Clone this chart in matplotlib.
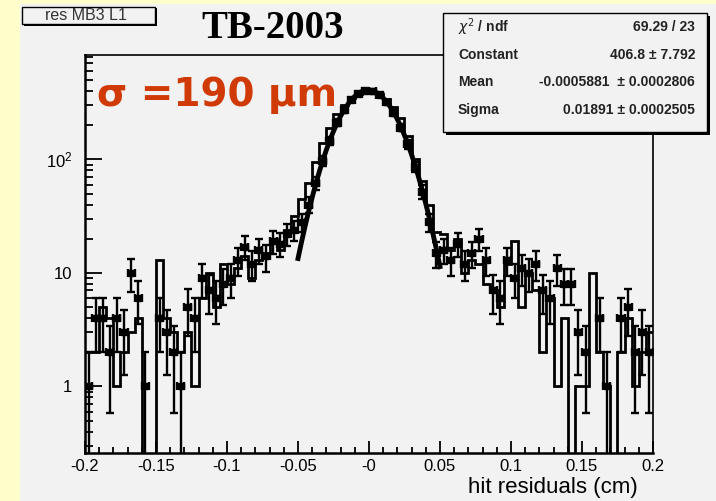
#!/usr/bin/env python
#
# Hit residual distribution for MB3 layer 1 (TB-2003 test beam),
# log scale, with the gaussian core fit and its stats box.
#

import numpy as np
import matplotlib.pyplot as plt
from matplotlib.patches import Rectangle

plt.rcParams['font.family'] = ['Liberation Sans', 'DejaVu Sans']

# 80 bins between -0.2 and 0.2 cm
bin_lo, bin_hi, n_bins = -0.2, 0.2, 80

# residuals drawn with error bars
res_pts = [1, 4, 4, 2, 4, 3, 10, 6, 1, 0,
           4, 3, 2, 1, 5, 4, 9, 7, 6, 8,
           9, 13, 17, 12, 16, 14, 19, 18, 22, 24,
           28, 40, 62, 97, 146, 210, 270, 336, 378, 402,
           399, 372, 318, 255, 190, 136, 86, 52, 28, 15,
           16, 13, 18, 12, 15, 20, 13, 7, 6, 13,
           9, 11, 10, 12, 7, 6, 11, 8, 8, 3,
           2, 0, 4, 1, 0, 4, 5, 2, 3, 2]

# residuals drawn as an open histogram
res_hist = [2, 2, 5, 4, 1, 2, 3, 4, 0, 0,
            13, 4, 3, 2, 3, 1, 6, 10, 5, 12,
            8, 11, 14, 9, 13, 15, 20, 16, 24, 32,
            45, 62, 95, 140, 190, 250, 300, 350, 380, 400,
            395, 380, 340, 290, 230, 160, 100, 64, 40, 23,
            22, 16, 20, 10, 13, 12, 8, 7, 5, 12,
            19, 5, 10, 7, 2, 6, 1, 4, 0, 1,
            1, 10, 2, 1, 0, 2, 4, 1, 2, 3]

# gaussian fit results
chi2, ndf = 69.29, 23
fit_const, fit_const_err = 406.8, 7.792
fit_mean, fit_mean_err = -0.0005881, 0.0002806
fit_sigma, fit_sigma_err = 0.01891, 0.0002505
fit_range = (-0.05, 0.05)

x_ticks = [-0.2, -0.15, -0.1, -0.05, 0.0, 0.05, 0.1, 0.15, 0.2]
x_ticklabels = ['-0.2', '-0.15', '-0.1', '-0.05', '-0', '0.05', '0.1', '0.15', '0.2']
y_ticks = [1, 10, 100]
y_ticklabels = ['1', '10', r'$\mathregular{10^{2}}$']

W, H = 716, 501


def fx(x):
    return x / W


def fy(y):
    return 1 - y / H


fig = plt.figure(figsize=(W / 100, H / 100), dpi=100, facecolor='#ffffcc')
# grey canvas
fig.patches.append(Rectangle((fx(20), 0), 1 - fx(20), fy(4), transform=fig.transFigure,
                             facecolor='#f2f2f2', edgecolor='none', zorder=0))

ax = fig.add_axes([fx(85), fy(453), fx(653) - fx(85), fy(55) - fy(453)])
ax.set_zorder(1)
ax.set_facecolor('#f2f2f2')
ax.set_yscale('log')
ax.set_xlim(bin_lo, bin_hi)
ax.set_ylim(0.259, 830)

edges = np.linspace(bin_lo, bin_hi, n_bins + 1)
centers = 0.5 * (edges[1:] + edges[:-1])
half = 0.5 * (edges[1] - edges[0])

# open histogram, empty bins fall off the bottom
h = np.array(res_hist, dtype=float)
ax.stairs(np.where(h > 0, h, 1e-3), edges, baseline=None, color='black', lw=2.0, zorder=2)

# points with poisson errors
n = np.array(res_pts, dtype=float)
ok = n > 0
err = np.sqrt(n[ok])
lo = np.minimum(err, n[ok] - 0.01)
ax.errorbar(centers[ok], n[ok], yerr=[lo, err], xerr=half, fmt='s', color='black',
            ms=5, elinewidth=1.7, capsize=3, capthick=1.7, zorder=3)

# gaussian fit
xf = np.linspace(fit_range[0], fit_range[1], 300)
yf = fit_const * np.exp(-0.5 * ((xf - fit_mean) / fit_sigma) ** 2)
ax.plot(xf, yf, color='black', lw=3.5, zorder=4)

ax.set_xticks(x_ticks)
ax.set_xticklabels(x_ticklabels)
ax.set_xticks(np.arange(-0.2, 0.2001, 0.01), minor=True)
ax.set_yticks(y_ticks)
ax.set_yticklabels(y_ticklabels)
ax.tick_params(axis='x', which='major', direction='in', length=9, width=1.3, labelsize=12, pad=4)
ax.tick_params(axis='x', which='minor', direction='in', length=4.5, width=1.3)
ax.tick_params(axis='y', which='major', direction='in', length=12, width=1.3, labelsize=12, pad=9)
ax.tick_params(axis='y', which='minor', direction='in', length=6, width=1.3, labelleft=False)
ax.tick_params(which='both', top=False, right=False)
for s in ax.spines.values():
    s.set_linewidth(1.2)
ax.spines['left'].set_linewidth(1.8)
ax.spines['bottom'].set_linewidth(1.8)

fig.text(fx(638), fy(487), 'hit residuals (cm)', fontsize=16, ha='right', va='center')

# histogram title box
fig.patches.append(Rectangle((fx(24), fy(26)), fx(133), fy(7) - fy(26) - 0.002,
                             transform=fig.transFigure, facecolor='black', zorder=5))
fig.patches.append(Rectangle((fx(22), fy(24)), fx(133), fy(7) - fy(24),
                             transform=fig.transFigure, facecolor='#f2f2f2',
                             edgecolor='black', lw=1.0, zorder=6))
fig.text(fx(86), fy(16), 'res MB3 L1', fontsize=11.5, color='#333333',
         ha='center', va='center', zorder=7)

fig.text(fx(273), fy(28), 'TB-2003', fontsize=28, fontweight='bold',
         family='Liberation Serif', ha='center', va='center', zorder=7)

fig.text(fx(97), fy(95), '\u03c3 =190 \u03bcm', fontsize=28, fontweight='bold',
         color='#d03a06', family='DejaVu Sans', ha='left', va='center', zorder=7)

# stats box
fig.patches.append(Rectangle((fx(446), fy(135)), fx(707) - fx(443), fy(13) - fy(132),
                             transform=fig.transFigure, facecolor='black', zorder=5))
fig.patches.append(Rectangle((fx(443), fy(132)), fx(707) - fx(443), fy(13) - fy(132),
                             transform=fig.transFigure, facecolor='#f2f2f2',
                             edgecolor='black', lw=1.0, zorder=6))
rows = [(r'$\chi^2$ / ndf', '%.2f / %d' % (chi2, ndf)),
        ('Constant', '%.1f \u00b1 %.3f' % (fit_const, fit_const_err)),
        ('Mean', '%.7f  \u00b1 %.7f' % (fit_mean, fit_mean_err)),
        ('Sigma', '%.5f \u00b1 %.7f' % (fit_sigma, fit_sigma_err))]
for k, (name, val) in enumerate(rows):
    yy = fy(27 + 27.7 * k)
    fig.text(fx(458), yy, name, fontsize=10, fontweight='bold', color='#222222',
             ha='left', va='center', zorder=7)
    fig.text(fx(695), yy, val, fontsize=10, fontweight='bold', color='#222222',
             ha='right', va='center', zorder=7)

fig.savefig('out.png', dpi=100, facecolor=fig.get_facecolor())
